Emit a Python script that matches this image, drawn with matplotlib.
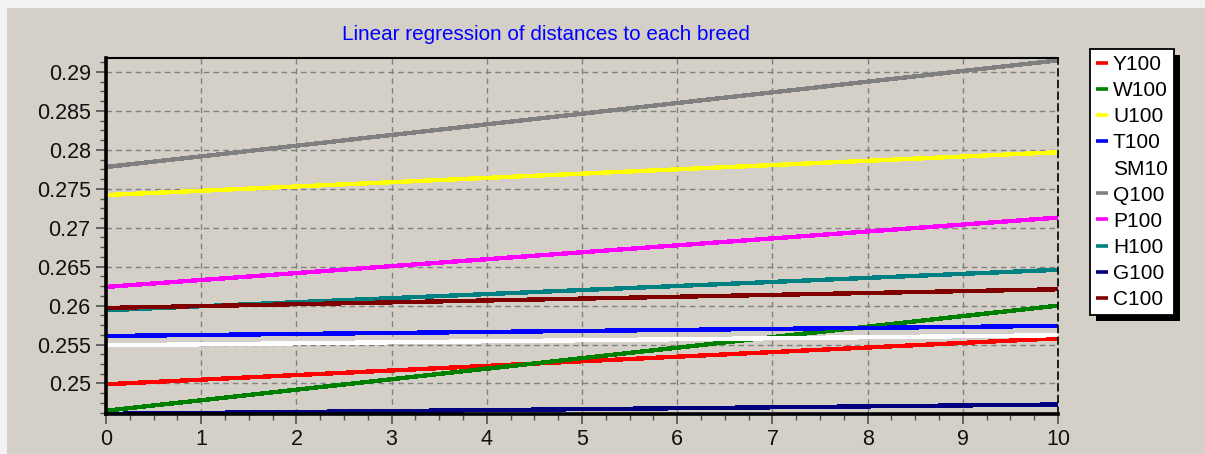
import matplotlib
matplotlib.use("Agg")
import matplotlib.pyplot as plt
from matplotlib.patches import Rectangle
from matplotlib.ticker import MultipleLocator, FuncFormatter

# Regression lines: value at x = 0 and at x = 10 for each breed
breeds = ["Y100", "W100", "U100", "T100", "SM10", "Q100", "P100", "H100", "G100", "C100"]
start_values = [0.2499, 0.2465, 0.2742, 0.2561, 0.2549, 0.2778, 0.2624, 0.2594, 0.2461, 0.2597]
end_values = [0.2558, 0.2600, 0.2797, 0.2574, 0.2562, 0.2915, 0.2713, 0.2646, 0.2473, 0.2621]
colors = ["#FF0000", "#008000", "#FFFF00", "#0000FF", "#FFFFFF",
          "#808080", "#FF00FF", "#008080", "#000080", "#800000"]
x_range = [0, 10]
x_ticks = list(range(0, 11))
y_ticks = [0.25, 0.255, 0.26, 0.265, 0.27, 0.275, 0.28, 0.285, 0.29]

W, H, DPI = 1205, 454, 100
BG = "#D4D0C8"
FS = 15.5

plt.rcParams["font.family"] = ["Liberation Sans", "DejaVu Sans"]
plt.rcParams["font.size"] = FS

fig = plt.figure(figsize=(W / DPI, H / DPI), dpi=DPI, facecolor=BG)

# light bevel along the top and left edges of the panel
fig.patches.append(Rectangle((0, 1 - 8 / H), 1, 8 / H, transform=fig.transFigure,
                             facecolor="#F2F2F2", edgecolor="none", zorder=0))
fig.patches.append(Rectangle((0, 0), 7 / W, 1, transform=fig.transFigure,
                             facecolor="#F2F2F2", edgecolor="none", zorder=0))

left, right, top, bottom = 106, 1058, 58, 414
ax = fig.add_axes([left / W, 1 - bottom / H, (right - left) / W, (bottom - top) / H])
ax.set_facecolor(BG)

for name, y0, y1, c in zip(breeds, start_values, end_values, colors):
    ax.plot(x_range, [y0, y1], color=c, lw=2.4, label=name,
            solid_capstyle="butt", antialiased=False, zorder=2)

ax.set_xlim(0, 10)
ax.set_ylim(0.24608, 0.2918)
ax.set_xticks(x_ticks)
ax.set_yticks(y_ticks)
ax.xaxis.set_minor_locator(MultipleLocator(0.25))
ax.yaxis.set_minor_locator(MultipleLocator(0.00125))
ax.yaxis.set_major_formatter(FuncFormatter(lambda v, p: f"{v:g}"))

ax.grid(True, which="major", color="#808080", linestyle=(0, (4, 3)), linewidth=1.0, zorder=1)
ax.set_axisbelow(True)

ax.tick_params(which="major", direction="out", length=7, width=1.2, color="#505050",
               labelsize=FS, labelcolor="#111111", pad=4)
ax.tick_params(which="minor", direction="out", length=4, width=1.0, color="#505050")

for side in ("left", "bottom"):
    ax.spines[side].set_linewidth(2.6)
    ax.spines[side].set_color("black")
ax.spines["top"].set_linewidth(1.5)
ax.spines["top"].set_color("black")
ax.spines["right"].set_linewidth(1.2)
ax.spines["right"].set_color("black")
ax.spines["right"].set_linestyle((0, (4, 3)))
for s in ax.spines.values():
    s.set_zorder(3)

fig.text(546 / W, 1 - 35 / H, "Linear regression of distances to each breed",
         color="#0000FF", fontsize=14.9, ha="center", va="center")

handles, labels = ax.get_legend_handles_labels()
leg = fig.legend(handles, labels, loc="upper left", bbox_to_anchor=(1090 / W, 1 - 49 / H),
                 bbox_transform=fig.transFigure, borderaxespad=0,
                 handlelength=0.55, handletextpad=0.25, labelspacing=0.34,
                 borderpad=0.3, fontsize=15, frameon=True, fancybox=False,
                 framealpha=1, edgecolor="black", facecolor="white")
leg.get_frame().set_linewidth(1.3)
leg.set_zorder(10)
for line in leg.get_lines():
    line.set_linewidth(2.6)

fig.canvas.draw()
bb = leg.get_window_extent()
shadow = Rectangle((bb.x0 + 6, bb.y0 - 6), bb.width, bb.height, transform=None,
                   facecolor="black", edgecolor="none", zorder=9)
fig.patches.append(shadow)

fig.savefig("out.png", dpi=DPI, facecolor=BG)
